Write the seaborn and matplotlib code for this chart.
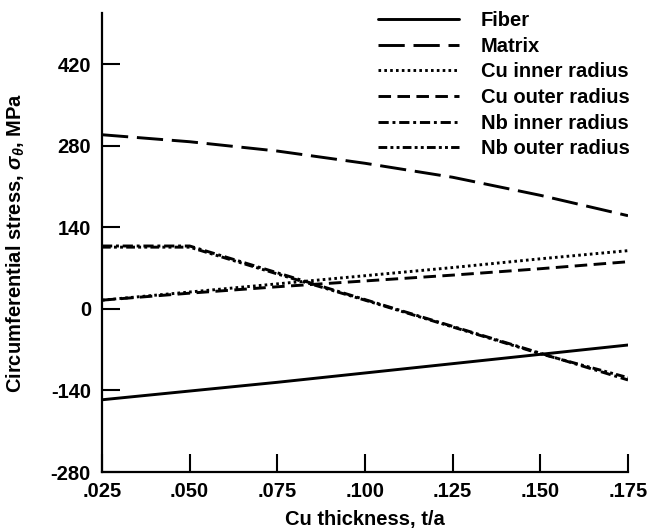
import numpy as np
import pandas as pd
import matplotlib
matplotlib.use("Agg")
import matplotlib.pyplot as plt
import seaborn as sns

# ---- data ----
thickness = [0.025, 0.050, 0.075, 0.100, 0.125, 0.150, 0.175]
x_tick_labels = [".025", ".050", ".075", ".100", ".125", ".150", ".175"]
y_ticks = [-280, -140, 0, 140, 280, 420]

fiber = [-156, -141, -126, -110, -94, -78, -62]
matrix = [299, 287, 271, 250, 226, 195, 160]
cu_inner = [15, 29, 43, 57, 71, 86, 100]
cu_outer = [15, 27, 38, 48, 58, 69, 81]
nb_inner = [108, 108, 62, 16, -30, -76, -122]
nb_outer = [106, 106, 60, 15, -31, -77, -118]

series_names = ["Fiber", "Matrix", "Cu inner radius", "Cu outer radius",
                "Nb inner radius", "Nb outer radius"]
series_values = [fiber, matrix, cu_inner, cu_outer, nb_inner, nb_outer]
line_styles = ["-", (0, (9, 3)), (0, (0.9, 1.1)), (0, (4.3, 2.2)),
               (0, (3.5, 1.3, 1.0, 1.3)), (0, (3.0, 1.1, 1.0, 1.1, 1.0, 1.1))]

sns.set_theme(style="ticks")
plt.rcParams["font.family"] = ["Liberation Sans", "DejaVu Sans"]
plt.rcParams["font.weight"] = "bold"
plt.rcParams["text.color"] = "black"
plt.rcParams["axes.labelcolor"] = "black"
plt.rcParams["xtick.color"] = "black"
plt.rcParams["ytick.color"] = "black"
plt.rcParams["mathtext.fontset"] = "custom"
plt.rcParams["mathtext.rm"] = "Liberation Sans:bold"
plt.rcParams["mathtext.it"] = "Liberation Sans:italic:bold"
plt.rcParams["mathtext.bf"] = "Liberation Sans:bold"

FS = 14.5

fig = plt.figure(figsize=(6.53, 5.32), dpi=100)
ax = fig.add_axes([102 / 653, 1 - 472 / 532, 526 / 653, 459 / 532])

for name, vals, ls in zip(series_names, series_values, line_styles):
    df = pd.DataFrame({"t": thickness, "s": vals})
    sns.lineplot(data=df, x="t", y="s", ax=ax, color="black", lw=2.1,
                 linestyle=ls, label=name)

ax.set_xlim(0.025, 0.175)
ax.set_ylim(-280, 508)
ax.set_xticks(thickness)
ax.set_xticklabels(x_tick_labels)
ax.set_yticks(y_ticks)
ax.set_yticklabels([str(v) for v in y_ticks])

for s in ["top", "right"]:
    ax.spines[s].set_visible(False)
for s in ["left", "bottom"]:
    ax.spines[s].set_linewidth(1.6)
    ax.spines[s].set_color("black")

ax.tick_params(axis="both", direction="in", length=13, width=1.5,
               colors="black", labelsize=FS, labelcolor="black")
ax.tick_params(axis="y", pad=8)
ax.tick_params(axis="x", pad=7)

ax.set_xlabel("Cu thickness, t/a", fontsize=FS, fontweight="bold", color="black")
ax.set_ylabel(r"Circumferential stress, $\sigma_\theta$, MPa", fontsize=FS,
              fontweight="bold", color="black")
ax.xaxis.set_label_coords(0.5, -0.082)
ax.yaxis.set_label_coords(-0.142, 0.5)

leg = ax.legend(loc="upper right", bbox_to_anchor=(630 / 653, 1 - 11 / 532),
                bbox_transform=fig.transFigure, frameon=False, fontsize=FS,
                handlelength=4.0, handletextpad=1.1, labelspacing=0.33,
                borderpad=0, borderaxespad=0)
for line in leg.get_lines():
    line.set_linewidth(2.1)
for txt in leg.get_texts():
    txt.set_color("black")

fig.savefig("out.png", dpi=100, facecolor="white")
